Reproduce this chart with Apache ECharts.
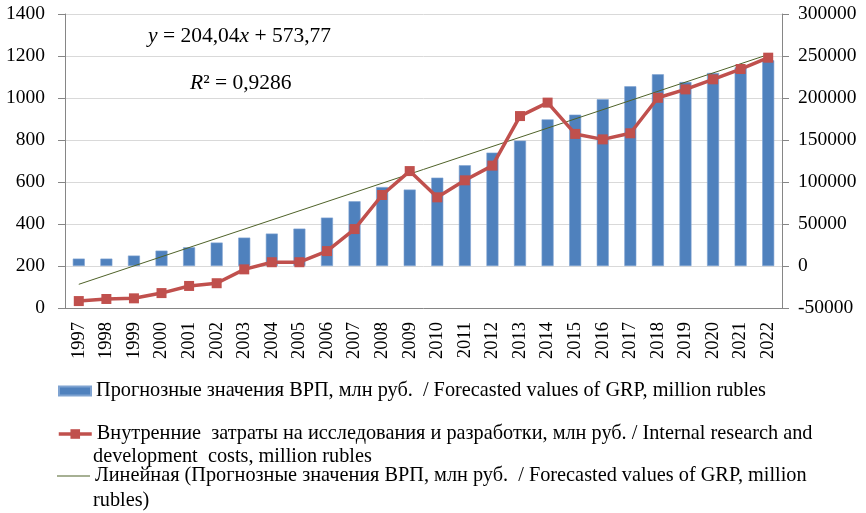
<!DOCTYPE html>
<html>
<head>
<meta charset="utf-8">
<script src="https://cdn.jsdelivr.net/npm/echarts@6/dist/echarts.min.js"></script>
<style>
  html, body { margin: 0; padding: 0; background: #fff; }
  #chart { width: 866px; height: 513px; }
</style>
</head>
<body>
<div id="chart"></div>
<script>
var years = ['1997','1998','1999','2000','2001','2002','2003','2004','2005','2006','2007','2008','2009',
             '2010','2011','2012','2013','2014','2015','2016','2017','2018','2019','2020','2021','2022']
// прогноз ВРП (правая ось)
var grpValues = [8800, 8800, 12400, 18300, 22300, 27900, 33800, 38600, 44500, 57600, 77000, 94000, 91000,
                 105200, 119900, 135000, 149300, 174600, 180200, 198500, 213900, 228200, 219000, 229800, 236500, 244900]
// затраты на исследования (левая ось)
var rdValues = [33, 43, 46, 71, 105, 118, 184, 218, 218, 271, 376, 538, 652,
                527, 608, 678, 914, 978, 829, 803, 832, 1001, 1041, 1089, 1138, 1192]
// линия тренда: только концы
var trendValues = [-21800, null, null, null, null, null, null, null, null, null, null, null, null,
                   null, null, null, null, null, null, null, null, null, null, null, null, 251700]
var leftTicks = [0, 1400, 200]
var rightTicks = [-50000, 300000, 50000]

var nameGrp = 'Прогнозные значения ВРП, млн руб.  / Forecasted values of GRP, million rubles'
var nameRd = 'Внутренние  затраты на исследования и разработки, млн руб. / Internal research and'
var nameRd2 = 'development  costs, million rubles'
var nameTrend = 'Линейная (Прогнозные значения ВРП, млн руб.  / Forecasted values of GRP, million'
var nameTrend2 = 'rubles)'

var font = 'Liberation Serif'
var chart = echarts.init(document.getElementById('chart'))

var legendBase = {
    orient: 'horizontal',
    itemGap: 0,
    padding: 0,
    textStyle: { fontFamily: font, fontSize: 20.3, color: '#000' },
    selectedMode: false
}

var option = {
    backgroundColor: '#fff',
    animation: false,
    grid: { left: 65, right: 84, top: 14, bottom: 205, containLabel: false },
    xAxis: {
        type: 'category',
        data: years,
        boundaryGap: true,
        axisLine: { onZero: false, lineStyle: { color: '#868686' } },
        axisTick: { interval: 0, length: 6, lineStyle: { color: '#868686' } },
        axisLabel: { interval: 0, rotate: 90, fontFamily: font, fontSize: 18.5, color: '#000', margin: 14 }
    },
    yAxis: [{
        type: 'value',
        min: leftTicks[0], max: leftTicks[1], interval: leftTicks[2],
        axisLine: { show: true, lineStyle: { color: '#868686' } },
        axisTick: { show: true, length: 7, lineStyle: { color: '#868686' } },
        axisLabel: { fontFamily: font, fontSize: 19.5, color: '#000', margin: 20, formatter: function (v) { return String(v) } },
        splitLine: { lineStyle: { color: '#D9D9D9', width: 1 } }
    }, {
        type: 'value',
        position: 'right',
        min: rightTicks[0], max: rightTicks[1], interval: rightTicks[2],
        axisLine: { show: true, lineStyle: { color: '#868686' } },
        axisTick: { show: true, length: 7, lineStyle: { color: '#868686' } },
        axisLabel: { fontFamily: font, fontSize: 19.5, color: '#000', margin: 16, formatter: function (v) { return String(v) } },
        splitLine: { show: false }
    }],
    legend: [
        Object.assign({}, legendBase, { left: 58, top: 381, data: [{ name: nameGrp, icon: 'rect' }], itemWidth: 32, itemHeight: 9 }),
        Object.assign({}, legendBase, { left: 57, top: 424, data: [nameRd], itemWidth: 33, itemHeight: 12,
            lineStyle: { width: 3.5 } }),
        Object.assign({}, legendBase, { left: 57, top: 466, data: [{ name: nameTrend, icon: 'rect' }], itemWidth: 33, itemHeight: 1.2 })
    ],
    graphic: [
        {
            type: 'text', left: 148, top: 25,
            style: {
                text: '{i|y} = 204,04{i|x} + 573,77',
                font: '21.5px ' + font, fill: '#000',
                rich: { i: { fontStyle: 'italic', fontFamily: font, fontSize: 21.5 } }
            }
        },
        {
            type: 'text', left: 190, top: 72,
            style: {
                text: '{i|R}² = 0,9286',
                font: '21.5px ' + font, fill: '#000',
                rich: { i: { fontStyle: 'italic', fontFamily: font, fontSize: 21.5 } }
            }
        },
        { type: 'text', left: 93, top: 447, style: { text: nameRd2, font: '20.3px ' + font, fill: '#000' } },
        { type: 'text', left: 93, top: 491, style: { text: nameTrend2, font: '20.3px ' + font, fill: '#000' } }
    ],
    series: [
        {
            name: nameGrp,
            type: 'bar',
            yAxisIndex: 1,
            data: grpValues,
            barWidth: 12,
            itemStyle: { color: '#4F81BD', borderColor: '#7FA3D1', borderWidth: 0.6 }
        },
        {
            name: nameRd,
            type: 'line',
            yAxisIndex: 0,
            data: rdValues,
            symbol: 'rect',
            symbolSize: 10,
            z: 5,
            lineStyle: { color: '#C0504D', width: 3.5 },
            itemStyle: { color: '#C0504D' }
        },
        {
            name: nameTrend,
            type: 'line',
            yAxisIndex: 1,
            data: trendValues,
            connectNulls: true,
            symbol: 'none',
            z: 4,
            lineStyle: { color: '#4F6228', width: 1 },
            itemStyle: { color: '#4F6228' }
        }
    ]
}
chart.setOption(option)
</script>
</body>
</html>
